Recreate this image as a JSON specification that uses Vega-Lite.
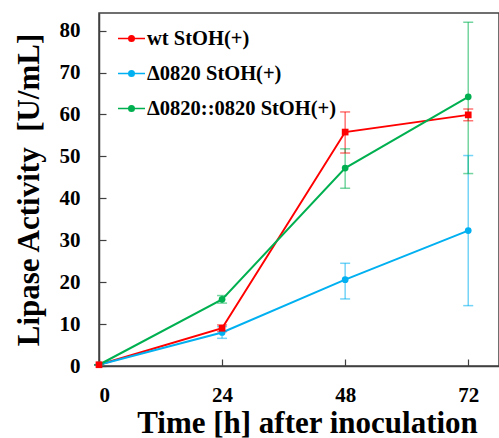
{
  "$schema": "https://vega.github.io/schema/vega-lite/v6.json",
  "width": 400,
  "height": 353,
  "autosize": "none",
  "padding": {"left": 99, "top": 13, "right": 0, "bottom": 72},
  "background": "white",
  "config": {
    "font": "Liberation Serif",
    "view": {"stroke": "#404040", "strokeWidth": 1.5},
    "axis": {
      "domainColor": "#404040",
      "domainWidth": 1.5,
      "tickColor": "#404040",
      "tickWidth": 1.2,
      "tickSize": -7,
      "grid": false,
      "labelFont": "Liberation Serif",
      "labelFontWeight": "bold",
      "labelFontSize": 21,
      "labelColor": "black",
      "titleFont": "Liberation Serif",
      "titleFontWeight": "bold",
      "titleFontSize": 31,
      "titleColor": "black"
    },
    "legend": {
      "labelFont": "Liberation Serif",
      "labelFontWeight": "bold",
      "labelFontSize": 20.5,
      "labelColor": "black",
      "labelLimit": 0
    }
  },
  "data": {
    "values": [
      {"t": 0, "strain": "wt StOH(+)", "y": 0.3, "lo": 0.3, "hi": 0.3},
      {"t": 24, "strain": "wt StOH(+)", "y": 9.0, "lo": 8.2, "hi": 9.8},
      {"t": 48, "strain": "wt StOH(+)", "y": 55.8, "lo": 50.8, "hi": 60.6},
      {"t": 72, "strain": "wt StOH(+)", "y": 59.9, "lo": 58.5, "hi": 61.3},
      {"t": 0, "strain": "Δ0820 StOH(+)", "y": 0.3, "lo": 0.3, "hi": 0.3},
      {"t": 24, "strain": "Δ0820 StOH(+)", "y": 8.0, "lo": 6.6, "hi": 9.4},
      {"t": 48, "strain": "Δ0820 StOH(+)", "y": 20.6, "lo": 16.0, "hi": 24.5},
      {"t": 72, "strain": "Δ0820 StOH(+)", "y": 32.3, "lo": 14.4, "hi": 50.2},
      {"t": 0, "strain": "Δ0820::0820 StOH(+)", "y": 0.3, "lo": 0.3, "hi": 0.3},
      {"t": 24, "strain": "Δ0820::0820 StOH(+)", "y": 15.9, "lo": 15.0, "hi": 16.8},
      {"t": 48, "strain": "Δ0820::0820 StOH(+)", "y": 47.2, "lo": 42.4, "hi": 51.8},
      {"t": 72, "strain": "Δ0820::0820 StOH(+)", "y": 64.2, "lo": 45.9, "hi": 82.0}
    ]
  },
  "encoding": {
    "x": {
      "field": "t", "type": "quantitative",
      "scale": {"domain": [0, 78], "nice": false, "zero": false},
      "axis": {"values": [0, 24, 48, 72], "title": "Time [h] after inoculation", "labelPadding": 25, "titlePadding": 3, "titleX": 208}
    },
    "color": {
      "field": "strain", "type": "nominal",
      "scale": {"domain": ["wt StOH(+)", "Δ0820 StOH(+)", "Δ0820::0820 StOH(+)"], "range": ["#ff0000", "#00b0f0", "#00b050"]},
      "legend": {
        "title": null,
        "orient": "none",
        "legendX": 18,
        "legendY": 11,
        "symbolType": "M-1,0L1,0M-0.2,0a0.2,0.2 0 1,0 0.4,0a0.2,0.2 0 1,0 -0.4,0",
        "symbolSize": 729,
        "symbolStrokeWidth": 1.6,
        "symbolOpacity": 1,
        "labelOffset": 1,
        "rowPadding": 10
      }
    }
  },
  "layer": [
    {
      "mark": {"type": "rule", "strokeWidth": 1.5, "opacity": 0.55},
      "encoding": {
        "y": {"field": "lo", "type": "quantitative"},
        "y2": {"field": "hi"}
      }
    },
    {
      "mark": {"type": "tick", "orient": "horizontal", "size": 10, "thickness": 1.5, "opacity": 0.55},
      "encoding": {"y": {"field": "lo", "type": "quantitative"}}
    },
    {
      "mark": {"type": "tick", "orient": "horizontal", "size": 10, "thickness": 1.5, "opacity": 0.55},
      "encoding": {"y": {"field": "hi", "type": "quantitative"}}
    },
    {
      "mark": {"type": "line", "strokeWidth": 2},
      "encoding": {
        "y": {
          "field": "y", "type": "quantitative",
          "scale": {"domain": [0, 84.2], "nice": false},
          "axis": {"values": [0, 10, 20, 30, 40, 50, 60, 70, 80], "title": "Lipase Activity \u00a0[U/mL]", "labelPadding": 26, "titlePadding": 14}
        }
      }
    },
    {
      "transform": [{"filter": "datum.strain !== 'wt StOH(+)'"}],
      "mark": {"type": "point", "filled": true, "opacity": 1, "size": 45, "shape": "circle"},
      "encoding": {"y": {"field": "y", "type": "quantitative"}}
    },
    {
      "transform": [{"filter": "datum.strain === 'wt StOH(+)'"}],
      "mark": {"type": "point", "filled": true, "opacity": 1, "size": 45, "shape": "square"},
      "encoding": {"y": {"field": "y", "type": "quantitative"}}
    }
  ]
}
